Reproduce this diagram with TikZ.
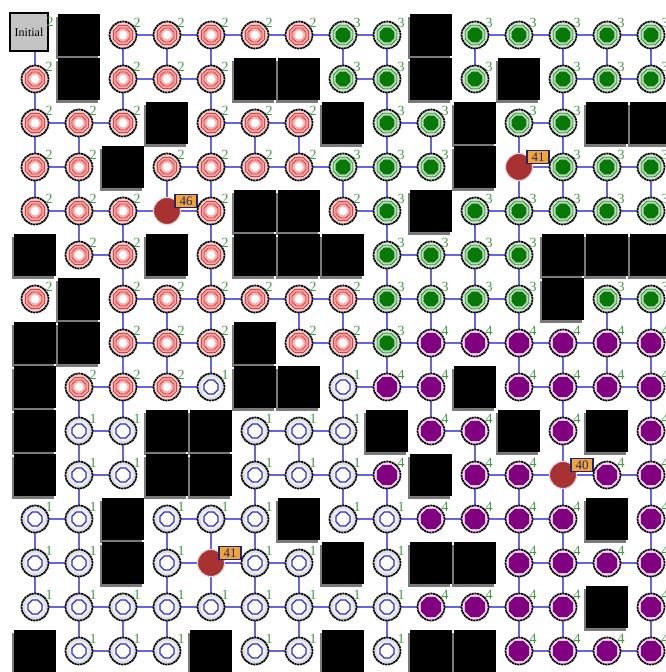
\documentclass[tikz,border=0pt]{standalone}
\usepackage{fontspec}
\setmainfont{Liberation Serif}
\usetikzlibrary{shapes.geometric}
\definecolor{edgec}{HTML}{6464E6}
\definecolor{lblc}{HTML}{3E9B3E}
\definecolor{ringR}{HTML}{E8D4D4}
\definecolor{redl}{HTML}{E83838}
\definecolor{redf}{HTML}{F4AEAE}
\definecolor{ringG}{HTML}{D2E2D2}
\definecolor{grnl}{HTML}{3C963C}
\definecolor{grnf}{HTML}{B4DEB4}
\definecolor{grnd}{HTML}{087808}
\definecolor{ringU}{HTML}{DCDCE6}
\definecolor{bluf}{HTML}{F0F0FA}
\definecolor{blul}{HTML}{2E2ED8}
\definecolor{ringP}{HTML}{F2D6F0}
\definecolor{purf}{HTML}{800080}
\definecolor{startf}{HTML}{A83232}
\definecolor{tagf}{HTML}{F2A531}
\definecolor{tagd}{HTML}{22227A}
\definecolor{shad}{HTML}{7A7A7A}
\definecolor{initf}{HTML}{C4C4C4}
\tikzset{
  ring/.style={circle, minimum size=27pt, inner sep=0pt, draw=black, line width=1.7pt, dash pattern=on 2.2pt off 0.6pt},
  oct/.style={regular polygon, regular polygon sides=8, inner sep=0pt},
  dig/.style={text=lblc, font=\fontsize{14}{14}\selectfont, inner sep=0pt},
  blk/.style={fill=black, minimum size=42pt, inner sep=0pt},
  blkshadow/.style={fill=shad, minimum size=42pt, inner sep=0pt},
  link/.style={draw=edgec, line width=1.5pt},
  tagbox/.style={draw=tagd, line width=1.2pt, fill=tagf, text=tagd, font=\fontsize{13}{13}\selectfont, minimum width=22pt, minimum height=13pt, inner sep=0pt},
  initbox/.style={draw=black, line width=2pt, fill=initf, minimum size=38pt, inner sep=0pt, font=\fontsize{12}{12}\selectfont}
}
\newcommand\mkR[3]{%
  \node[ring, fill=ringR] (#1) at (#2,#3) {};
  \node[oct, minimum size=21pt, draw=redl, line width=1pt, fill=redf] (#1-a) at (#2,#3) {};
  \node[oct, minimum size=15pt, draw=redl, line width=0.8pt, fill=redf] (#1-b) at (#2,#3) {};
  \node[circle, minimum size=9pt, inner sep=0pt, fill=white] (#1-c) at (#2,#3) {};
  \node[dig] (#1-l) at (#2+14,#3-12) {2};}
\newcommand\mkG[3]{%
  \node[ring, fill=ringG] (#1) at (#2,#3) {};
  \node[oct, minimum size=21pt, draw=grnl, line width=0.8pt, fill=grnf] (#1-a) at (#2,#3) {};
  \node[oct, minimum size=16pt, fill=grnd] (#1-b) at (#2,#3) {};
  \node[dig] (#1-l) at (#2+14,#3-12) {3};}
\newcommand\mkU[3]{%
  \node[ring, fill=ringU] (#1) at (#2,#3) {};
  \node[circle, minimum size=21pt, inner sep=0pt, fill=bluf] (#1-a) at (#2,#3) {};
  \node[oct, minimum size=15pt, draw=blul, line width=1.2pt, fill=white] (#1-b) at (#2,#3) {};
  \node[dig] (#1-l) at (#2+14,#3-12) {1};}
\newcommand\mkP[3]{%
  \node[ring, fill=ringP] (#1) at (#2,#3) {};
  \node[oct, minimum size=22pt, fill=purf] (#1-a) at (#2,#3) {};
  \node[dig] (#1-l) at (#2+14,#3-12) {4};}
\newcommand\mkF[3]{%
  \node[circle, minimum size=27pt, inner sep=0pt, fill=startf, draw=ringR, line width=1pt] (#1) at (#2,#3) {};
  \node[tagbox] (#1-t) at (#2+19,#3-10) {\csname tag-\rr-\cc\endcsname};}
\newcommand\mkB[3]{%
  \node[blkshadow] (#1-s) at (#2-2.5,#3+3) {};
  \node[blk] (#1) at (#2,#3) {};}
\newcommand\mkI[3]{%
  \node[initbox] (#1) at (#2-6,#3-3) {Initial};
  \node[dig] (#1-l) at (#2+15,#3-13) {2};}
\def\tB{B}
\expandafter\def\csname tag-3-11\endcsname{41}
\expandafter\def\csname tag-4-3\endcsname{46}
\expandafter\def\csname tag-10-12\endcsname{40}
\expandafter\def\csname tag-12-4\endcsname{41}
\begin{document}
\begin{tikzpicture}[x=1pt,y=-1pt]
\useasboundingbox (0,0) rectangle (665,672);
\fill[white] (0,0) rectangle (665,672);
\foreach \rowlist [count=\rr from 0] in {
 {I,B,R,R,R,R,R,G,G,B,G,G,G,G,G},
 {R,B,R,R,R,B,B,G,G,B,G,B,G,G,G},
 {R,R,R,B,R,R,R,B,G,G,B,G,G,B,B},
 {R,R,B,R,R,R,R,G,G,G,B,F,G,G,G},
 {R,R,R,F,R,B,B,R,G,B,G,G,G,G,G},
 {B,R,R,B,R,B,B,B,G,G,G,G,B,B,B},
 {R,B,R,R,R,R,R,R,G,G,G,G,B,G,G},
 {B,B,R,R,R,B,R,R,G,P,P,P,P,P,P},
 {B,R,R,R,U,B,B,U,P,P,B,P,P,P,P},
 {B,U,U,B,B,U,U,U,B,P,P,B,P,B,P},
 {B,U,U,B,B,U,U,U,P,B,P,P,F,P,P},
 {U,U,B,U,U,U,B,U,U,P,P,P,P,B,P},
 {U,U,B,U,F,U,U,B,U,B,B,P,P,P,P},
 {U,U,U,U,U,U,U,U,U,P,P,P,P,B,P},
 {B,U,U,U,B,U,U,B,U,B,B,P,P,P,P}}{
  \foreach \ty [count=\cc from 0] in \rowlist {
    \expandafter\xdef\csname cell-\rr-\cc\endcsname{\ty}
  }
}
% grid points
\foreach \rr in {0,...,14}{
  \foreach \cc in {0,...,14}{
    \coordinate (p-\rr-\cc) at (35+44*\cc,35+44*\rr);
  }
}
% connectors
\foreach \rr in {0,...,14}{
  \foreach \cc in {0,...,14}{
    \edef\ta{\csname cell-\rr-\cc\endcsname}
    \ifx\ta\tB\else
      \ifnum\cc<14
        \pgfmathtruncatemacro\cn{\cc+1}
        \edef\tb{\csname cell-\rr-\cn\endcsname}
        \ifx\tb\tB\else\draw[link] (p-\rr-\cc) -- (p-\rr-\cn);\fi
      \fi
      \ifnum\rr<14
        \pgfmathtruncatemacro\rn{\rr+1}
        \edef\tb{\csname cell-\rn-\cc\endcsname}
        \ifx\tb\tB\else\draw[link] (p-\rr-\cc) -- (p-\rn-\cc);\fi
      \fi
    \fi
  }
}
% cells
\foreach \rr in {0,...,14}{
  \foreach \cc in {0,...,14}{
    \edef\ty{\csname cell-\rr-\cc\endcsname}
    \pgfmathtruncatemacro\px{35+44*\cc}
    \pgfmathtruncatemacro\py{35+44*\rr}
    \csname mk\ty\endcsname{n-\rr-\cc}{\px}{\py}
  }
}
\end{tikzpicture}
\end{document}
